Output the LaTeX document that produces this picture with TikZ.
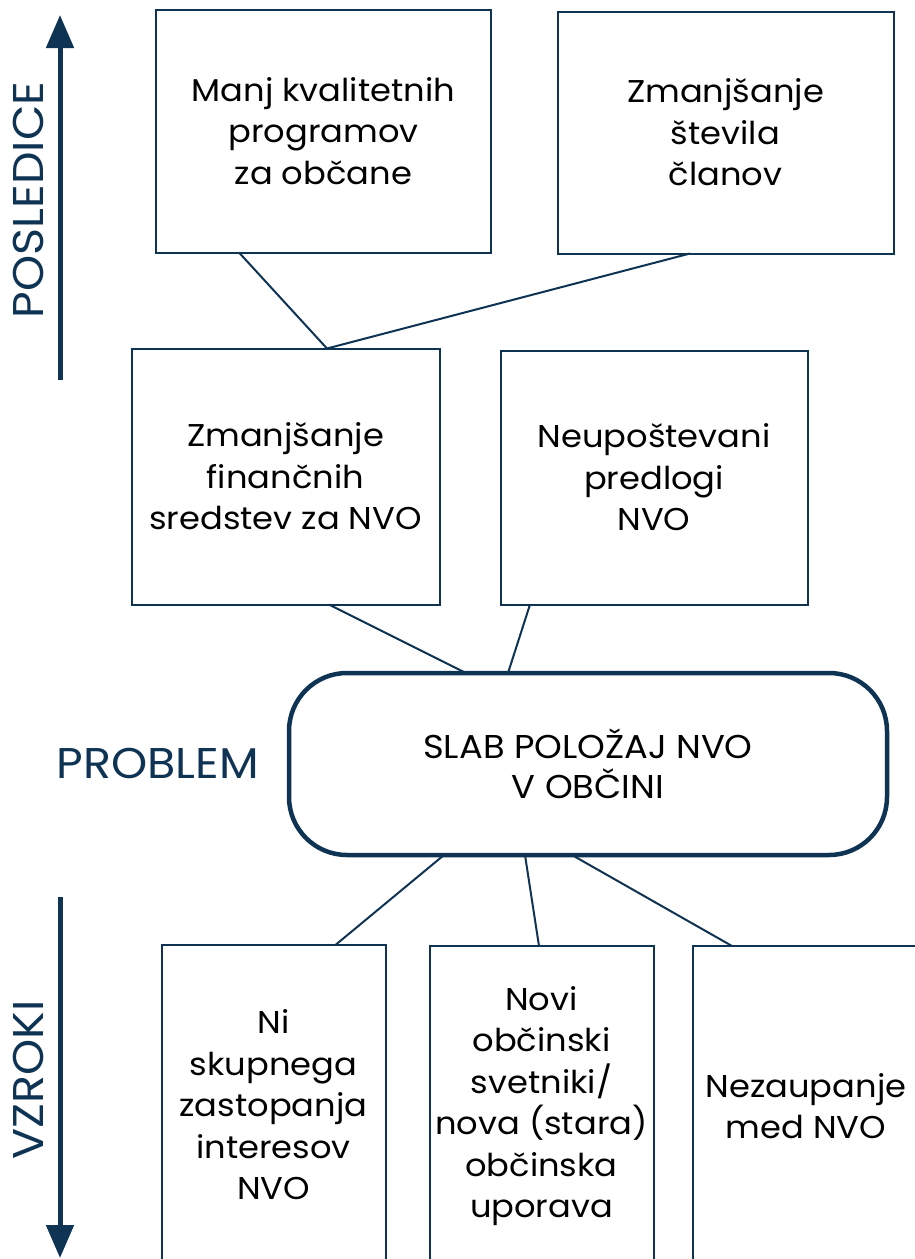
\documentclass[tikz,border=0pt]{standalone}
\usepackage{fontspec}
\setmainfont{Poppins}[FakeStretch=1.07]
\usetikzlibrary{arrows.meta,calc}
\definecolor{navy}{HTML}{0F3353}
\tikzset{
  box/.style={draw=navy,line width=2pt,inner sep=0pt,outer sep=0pt,align=center,
    font=\fontsize{31.5}{41.5}\selectfont,text=black},
  probbox/.style={draw=navy,line width=4.5pt,rounded corners=58pt,inner sep=0pt,outer sep=0pt,
    align=center,font=\fontsize{33}{40.5}\selectfont,text=black,
    minimum width=598pt,minimum height=182pt},
  conn/.style={draw=navy,line width=2pt},
  axis/.style={draw=navy,line width=5pt,-{Triangle[width=27pt,length=33pt]}},
  side/.style={text=navy,font=\fontsize{43}{45}\selectfont,inner sep=0pt}
}
\begin{document}
\begin{tikzpicture}[x=1pt,y=-1pt]
\useasboundingbox (0,0) rectangle (914,1259);
% consequences
\node[box,minimum width=335pt,minimum height=243pt] (A) at (323.5,131) {Manj kvalitetnih\\programov\\za občane};
\node[box,minimum width=336pt,minimum height=242pt] (B) at (725.5,132.5) {Zmanjšanje\\števila\\članov};
\node[box,minimum width=308pt,minimum height=256pt] (C) at (285.5,476.5) {Zmanjšanje\\finančnih\\sredstev za NVO};
\node[box,minimum width=307pt,minimum height=254pt] (D) at (654,477.5) {Neupoštevani\\predlogi\\NVO};
% problem
\node[probbox] (P) at (588,764) {SLAB POLOŽAJ NVO\\V OBČINI};
% causes
\node[box,minimum width=224pt,minimum height=321pt] (E) at (273.5,1105) {Ni\\skupnega\\zastopanja\\interesov\\NVO};
\node[box,minimum width=224pt,minimum height=320pt] (F) at (541.5,1106) {Novi\\občinski\\svetniki/\\nova (stara)\\občinska\\uporava};
\node[box,minimum width=226pt,minimum height=320pt] (G) at (806,1106) {Nezaupanje\\med NVO};
% connectors
\draw[conn] ([xshift=-84.5pt]A.south) -- ([xshift=41.5pt]C.north);
\draw[conn] ([xshift=-35.5pt]B.south) -- ([xshift=41.5pt]C.north);
\draw[conn] ([xshift=43.5pt]C.south) -- ([xshift=-122pt]P.north);
\draw[conn] ([xshift=-124pt]D.south) -- ([xshift=-80pt]P.north);
\draw[conn] ([xshift=-144pt]P.south) -- ([xshift=62.5pt]E.north);
\draw[conn] ([xshift=-63pt]P.south) -- ([xshift=-2.5pt]F.north);
\draw[conn] ([xshift=-16pt]P.south) -- ([xshift=-74pt]G.north);
% axes
\coordinate (u0) at (60,380);
\coordinate (u1) at (60,15);
\coordinate (d0) at (60,897);
\coordinate (d1) at (60,1258);
\draw[axis] (u0) -- (u1);
\draw[axis] (d0) -- (d1);
\node[side,rotate=90] (lp) at (28,200) {POSLEDICE};
\node[side] (lpr) at (158,763) {PROBLEM};
\node[side,rotate=90] (lv) at (28,1080) {VZROKI};
\end{tikzpicture}
\end{document}
